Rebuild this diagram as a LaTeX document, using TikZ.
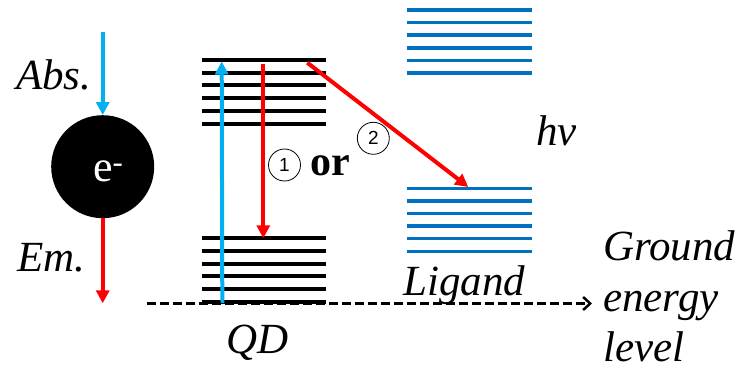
\documentclass[tikz,border=0pt]{standalone}
\usepackage{fontspec}
\setmainfont{Liberation Serif}
\newfontfamily\digitfont{Liberation Sans}
\usetikzlibrary{arrows.meta}
\definecolor{absblue}{HTML}{00B0F0}
\definecolor{emred}{HTML}{FF0000}
\definecolor{ligblue}{HTML}{0070C0}
\tikzset{
  qdlevel/.style={line width=4pt, black},
  liglevel/.style={line width=3.5pt, ligblue},
  photon/.style={line width=4pt, -{Triangle[length=13pt,width=13pt]}},
  label/.style={inner sep=0pt, font=\fontsize{43}{50}\selectfont\itshape},
  circnum/.style={draw, circle, line width=0.8pt, minimum size=32pt, inner sep=0pt,
    font=\digitfont\fontsize{19}{20}\selectfont},
}
\begin{document}
\begin{tikzpicture}[x=1pt,y=-1pt]
\useasboundingbox (0,0) rectangle (741,369);

% QD energy levels
\foreach \y in {60,72.7,85.4,98.1,110.8,123.5}
  \draw[qdlevel] (202,\y) -- (326,\y);
\foreach \y in {238.3,251,263.6,276.3,289,301.6}
  \draw[qdlevel] (202,\y) -- (326,\y);

% ligand energy levels
\foreach \y in {10,22.6,35.2,47.8,60.4,73}
  \draw[liglevel] (407,\y) -- (532,\y);
\foreach \y in {188.3,200.9,213.5,226.1,238.7,251.3}
  \draw[liglevel] (407,\y) -- (532,\y);

% electron
\node[circle, fill=black, minimum size=103pt, inner sep=0pt] (e) at (102.7,166.7) {};
\node[inner sep=0pt, anchor=base west, text=white, font=\fontsize{44}{50}\selectfont] (elbl) at (93,181.7) {e\textsuperscript{-}};

% labels
\node[label, anchor=base west] (abs) at (16,89.3) {Abs.};
\node[label, anchor=base west] (em) at (17,271.7) {Em.};
\node[label, anchor=base west] (qd) at (226,353) {QD};
\node[label, anchor=base west] (lig) at (403,295) {Ligand};
\node[label, anchor=base west] (hv) at (536,145) {hv};
\node[label, anchor=base west] (gnd) at (603,260) {Ground};
\node[label, anchor=base west] (gnd2) at (603,311.2) {energy};
\node[label, anchor=base west] (gnd3) at (603,361.5) {level};
\node[inner sep=0pt, anchor=base west, font=\fontsize{42}{50}\selectfont\bfseries] (or) at (310,175) {or};
\node[circnum] (one) at (284.5,165) {1};
\node[circnum] (two) at (373.3,138.3) {2};

% arrow end points
\coordinate (absS) at (102.7,32.3);
\coordinate (emE) at (102.7,303.3);
\coordinate (qdB) at (222.3,303);
\coordinate (qdT) at (221.7,61.5);
\coordinate (r1S) at (263.3,64.3);
\coordinate (r1E) at (263.3,238.3);
\coordinate (r2S) at (307.3,62.7);
\coordinate (r2E) at (468.3,187);
\coordinate (gS) at (147,303.5);
\coordinate (gE) at (592,303.5);

% transitions
\draw[photon, absblue] (absS) -- (e.north);
\draw[photon, emred] (e.south) -- (emE);
\draw[photon, absblue] (qdB) -- (qdT);
\draw[photon, emred] (r1S) -- (r1E);
\draw[photon, emred] (r2S) -- (r2E);

% ground energy level
\draw[line width=2.5pt, dash pattern=on 9pt off 4pt, -{Straight Barb[length=7pt,width=13pt,line width=2.5pt]}] (gS) -- (gE);
\end{tikzpicture}
\end{document}
